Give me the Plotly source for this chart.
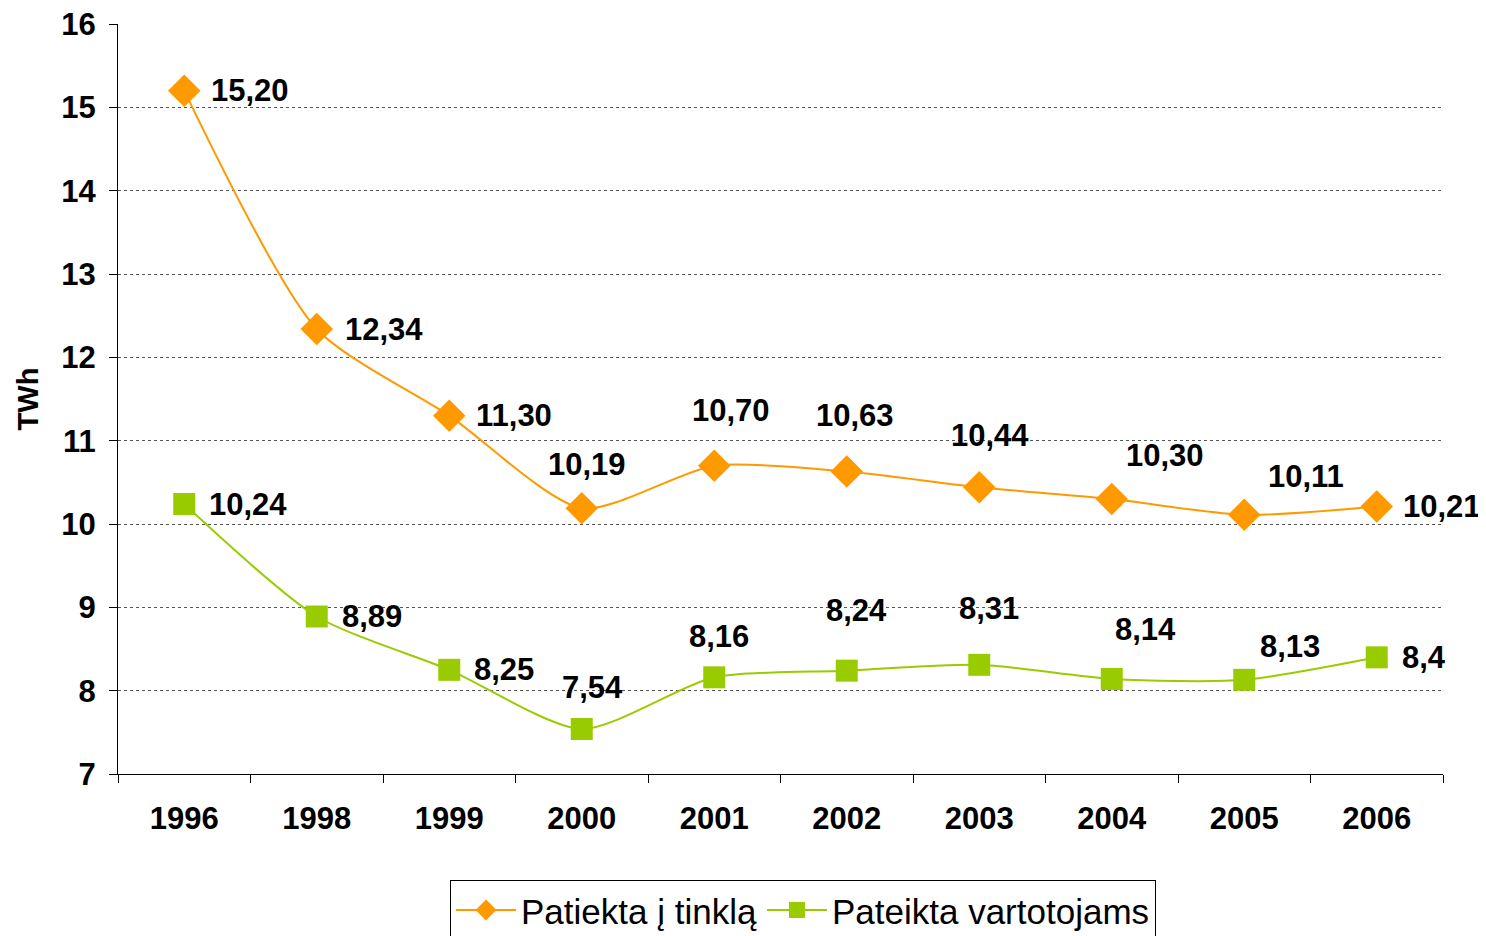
import plotly.graph_objects as go

# data
years = ["1996", "1998", "1999", "2000", "2001", "2002", "2003", "2004", "2005", "2006"]
tinkla = [15.20, 12.34, 11.30, 10.19, 10.70, 10.63, 10.44, 10.30, 10.11, 10.21]
tinkla_txt = ["15,20", "12,34", "11,30", "10,19", "10,70", "10,63", "10,44", "10,30", "10,11", "10,21"]
vartot = [10.24, 8.89, 8.25, 7.54, 8.16, 8.24, 8.31, 8.14, 8.13, 8.40]
vartot_txt = ["10,24", "8,89", "8,25", "7,54", "8,16", "8,24", "8,31", "8,14", "8,13", "8,4"]

ORANGE = "#FF9900"
GREEN = "#99CC00"

# label offsets (px) - excel put them a bit all over the place
tinkla_off = [(25, 0, "left"), (26, 0, "left"), (25, 0, "left"), (5, 44, "center"), (17, 55, "center"),
              (8, 56, "center"), (11, 52, "center"), (53, 44, "center"), (62, 38, "center"), (24, 0, "left")]
vartot_off = [(23, 0, "left"), (23, 0, "left"), (23, 0, "left"), (11, 42, "center"), (5, 41, "center"),
              (10, 60, "center"), (10, 56, "center"), (34, 50, "center"), (46, 33, "center"), (23, 0, "left")]

fig = go.Figure()
fig.add_trace(go.Scatter(
    x=years, y=tinkla, name="Patiekta į tinklą", mode="lines+markers",
    line=dict(color=ORANGE, width=2, shape="spline", smoothing=0.7),
    marker=dict(symbol="diamond", size=25, color=ORANGE),
))
fig.add_trace(go.Scatter(
    x=years, y=vartot, name="Pateikta vartotojams", mode="lines+markers",
    line=dict(color=GREEN, width=2, shape="spline", smoothing=0.7),
    marker=dict(symbol="square", size=22, color=GREEN),
))

annots = []
for ys, txts, offs in [(tinkla, tinkla_txt, tinkla_off), (vartot, vartot_txt, vartot_off)]:
    # x given as category index (strings like "1996" would be read as numbers)
    for i, (y, t, (dx, dy, anc)) in enumerate(zip(ys, txts, offs)):
        annots.append(dict(x=i, y=y, xref="x", yref="y", text=t, showarrow=False,
                           xshift=dx, yshift=dy, xanchor=anc, yanchor="middle",
                           font=dict(family="Liberation Sans", size=31, color="black", weight="bold")))

fig.update_layout(
    # taller than the window on purpose: legend box is cut off at the bottom like the original
    width=1486, height=960,
    # page body has 8px margin, so shift everything by that
    margin=dict(l=110, r=51, t=16, b=194),
    plot_bgcolor="white", paper_bgcolor="white",
    font=dict(family="Liberation Sans", color="black"),
    annotations=annots,
    showlegend=True,
    legend=dict(orientation="h", x=0.517, xanchor="center", y=-0.141, yanchor="top",
                bordercolor="black", borderwidth=1, font=dict(size=35),
                itemwidth=60),
    xaxis=dict(type="category", range=[-0.5, 9.5], tickson="boundaries",
               showline=True, linecolor="black", linewidth=1,
               ticks="outside", ticklen=8, tickcolor="black", showgrid=False,
               ticklabelstandoff=17, automargin=False,
               tickfont=dict(size=31, weight="bold")),
    yaxis=dict(range=[7, 16], dtick=1, showline=True, linecolor="black", linewidth=1,
               ticks="outside", ticklen=8, tickcolor="black",
               showgrid=True, gridcolor="#555555", griddash="dot", gridwidth=1,
               ticklabelstandoff=7, ticklabeloverflow="allow", automargin=False,
               zeroline=False, tickfont=dict(size=31, weight="bold"),
               title=dict(text="TWh", font=dict(size=29, weight="bold"), standoff=14)),
)

fig.write_html("out.html")
